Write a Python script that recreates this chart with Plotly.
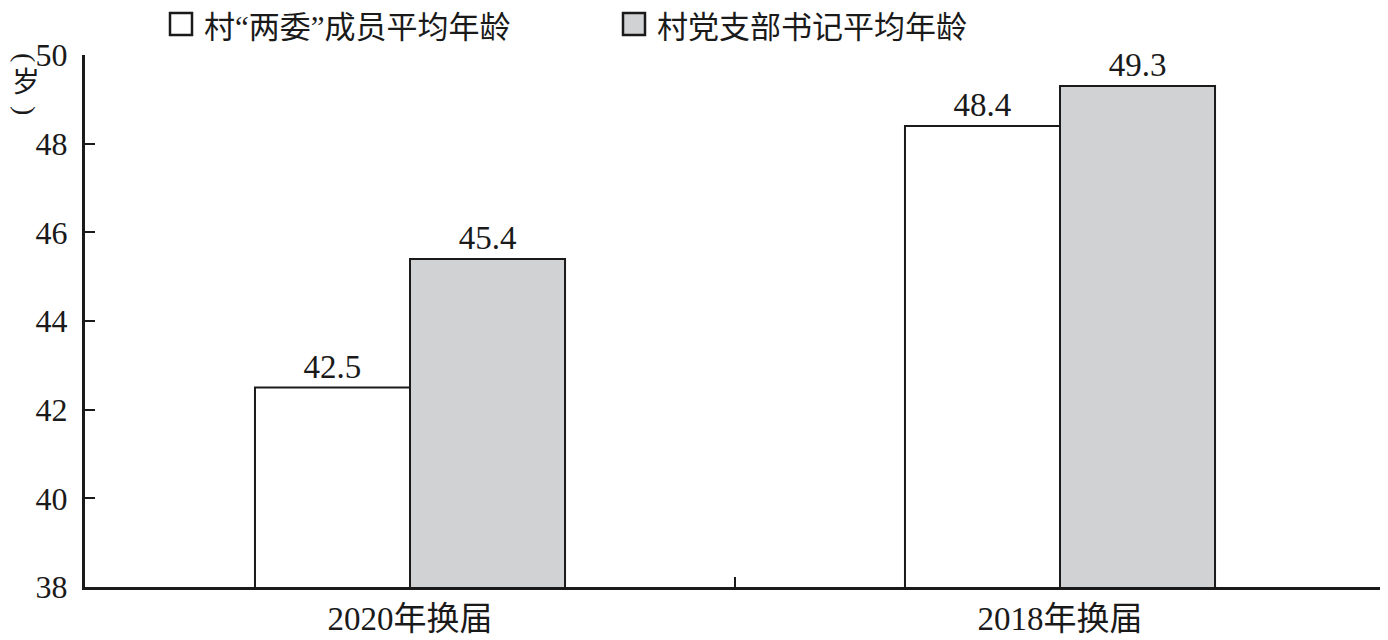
import plotly.graph_objects as go

categories = ["2020年换届", "2018年换届"]
series_names = ["村“两委”成员平均年龄", "村党支部书记平均年龄"]
members_avg = [42.5, 48.4]
secretary_avg = [45.4, 49.3]
y_ticks = [38, 40, 42, 44, 46, 48, 50]
colors = ["#ffffff", "#d1d2d4"]

FONT = "Liberation Serif, Noto Sans CJK SC"
INK = "#1a1a1a"
OFF = 8  # page body offset

L, T, PW, PH = 85 - OFF, 55 - OFF, 1300, 532
W, H = 1388, 640


def px(x):
    return (x - OFF - L) / PW


def py(y):
    return 1 - (y - OFF - T) / PH


fig = go.Figure()
for name, vals, col in zip(series_names, [members_avg, secretary_avg], colors):
    fig.add_trace(go.Bar(
        x=categories, y=vals, name=name,
        marker=dict(color=col, line=dict(color=INK, width=2)),
        text=[f"{v:.1f}" for v in vals], textposition="outside",
        textfont=dict(size=33, color=INK, family=FONT), cliponaxis=False,
    ))

fig.update_layout(
    width=W, height=H,
    margin=dict(l=L, r=W - L - PW, t=T, b=H - T - PH, autoexpand=False),
    paper_bgcolor="white", plot_bgcolor="white",
    barmode="group", bargap=0.523, bargroupgap=0,
    font=dict(family=FONT, size=32, color=INK),
    showlegend=False,
    xaxis=dict(showline=True, linecolor=INK, linewidth=3, automargin=False,
               ticks="inside", tickson="boundaries", ticklen=10, tickwidth=2,
               tickcolor=INK, tickfont=dict(size=33, family=FONT),
               showgrid=False, zeroline=False),
    yaxis=dict(range=[38, 50], tickvals=y_ticks, showline=True, automargin=False,
               linecolor=INK, linewidth=3, ticks="inside", ticklen=10,
               tickwidth=2, tickcolor=INK, showgrid=False, zeroline=False,
               tickfont=dict(size=32, family=FONT), ticklabelstandoff=8),
)

# manual legend (squares + labels), positions in reference pixels
legend_x = [170, 623]
for i, (name, col) in enumerate(zip(series_names, colors)):
    x0 = legend_x[i]
    fig.add_shape(type="rect", xref="paper", yref="paper",
                  x0=px(x0), x1=px(x0 + 22), y0=py(35), y1=py(13),
                  fillcolor=col, line=dict(color=INK, width=2.5))
    fig.add_annotation(text=name, xref="paper", yref="paper",
                       x=px(x0 + 32), y=py(27),
                       xanchor="left", yanchor="middle", showarrow=False,
                       font=dict(size=31, family=FONT, color=INK))

# vertical unit label "（岁）": rotated brackets around an upright character
unit_parts = [("(", 90, 57, 28), ("岁", 0, 83, 28), (")", 90, 110, 28)]
for txt, ang, ypx, size in unit_parts:
    fig.add_annotation(text=txt, textangle=ang, xref="paper", yref="paper",
                       x=px(26), y=py(ypx),
                       xanchor="center", yanchor="middle", showarrow=False,
                       font=dict(size=size, family=FONT, color=INK))

fig.write_html("out.html")
